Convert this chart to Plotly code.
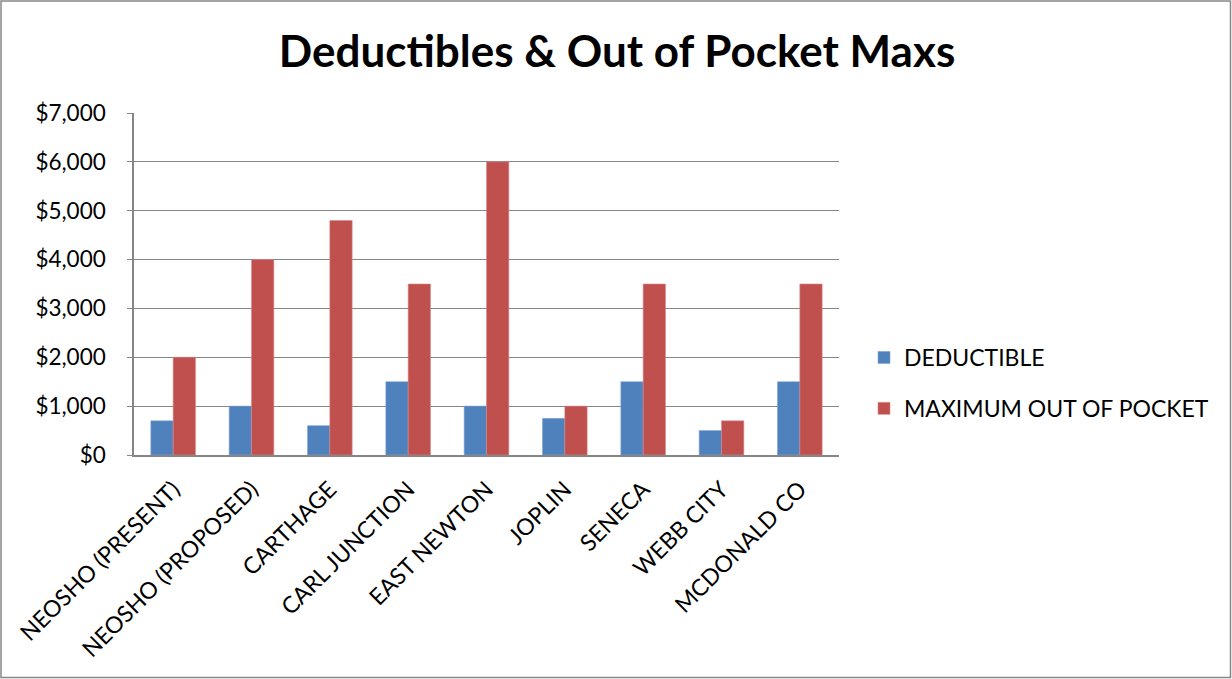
import plotly.graph_objects as go

categories = ["NEOSHO (PRESENT)", "NEOSHO (PROPOSED)", "CARTHAGE", "CARL JUNCTION",
              "EAST NEWTON", "JOPLIN", "SENECA", "WEBB CITY", "MCDONALD CO"]
deductible = [700, 1000, 600, 1500, 1000, 750, 1500, 500, 1500]
max_out_of_pocket = [2000, 4000, 4800, 3500, 6000, 1000, 3500, 700, 3500]
y_ticks = [0, 1000, 2000, 3000, 4000, 5000, 6000, 7000]
y_tick_labels = ["$0", "$1,000", "$2,000", "$3,000", "$4,000", "$5,000", "$6,000", "$7,000"]

W, H = 1232, 679
L, R, T, B = 134, 393, 113, 224
pw, ph = W - L - R, H - T - B

FONT = "Lato, Carlito, Calibri, sans-serif"

fig = go.Figure()
fig.add_trace(go.Bar(name="DEDUCTIBLE", x=categories, y=deductible,
                     marker=dict(color="#4F81BD", line=dict(color="#7FA3D3", width=0.6)),
                     legendgroup="a"))
fig.add_trace(go.Bar(name="MAXIMUM OUT OF POCKET", x=categories, y=max_out_of_pocket,
                     marker=dict(color="#C0504D", line=dict(color="#D98886", width=0.6)),
                     legendgroup="b"))

# outer chart border
fig.add_shape(type="rect", xref="paper", yref="paper",
              x0=(1 - L) / pw, x1=(W - 1.5 - L) / pw,
              y0=-(B - 1.5) / ph, y1=1 + (T - 1) / ph,
              line=dict(color="#878787", width=1.5))

fig.update_layout(
    width=W, height=H,
    margin=dict(l=L, r=R, t=T, b=B, pad=0),
    paper_bgcolor="white", plot_bgcolor="white",
    font=dict(family=FONT, color="black"),
    title=dict(text="<b>Deductibles &amp; Out of Pocket Maxs</b>",
               font=dict(size=44, family=FONT), x=617 / W, xanchor="center",
               y=1 - 52 / H, yanchor="middle"),
    barmode="group", bargap=0.43, bargroupgap=0,
    showlegend=True,
    legend=dict(x=(864 - L) / pw, y=1 - (336 - T) / ph, xanchor="left", yanchor="top",
                font=dict(size=23, family=FONT), traceorder="grouped",
                tracegroupgap=18, itemwidth=30, bgcolor="rgba(0,0,0,0)"),
    xaxis=dict(tickangle=-45, tickfont=dict(size=23), showline=True, linecolor="#868686",
               linewidth=1.5, showgrid=False, ticks="", ticklabelstandoff=10),
    yaxis=dict(range=[0, 7000], tickvals=y_ticks, ticktext=y_tick_labels,
               tickfont=dict(size=22.5), showline=True, linecolor="#868686", linewidth=1.5,
               showgrid=True, gridcolor="#868686", gridwidth=1.2, ticks="outside",
               tickcolor="#868686", ticklen=5, zeroline=False, ticklabelstandoff=17),
)

fig.write_html("out.html")
